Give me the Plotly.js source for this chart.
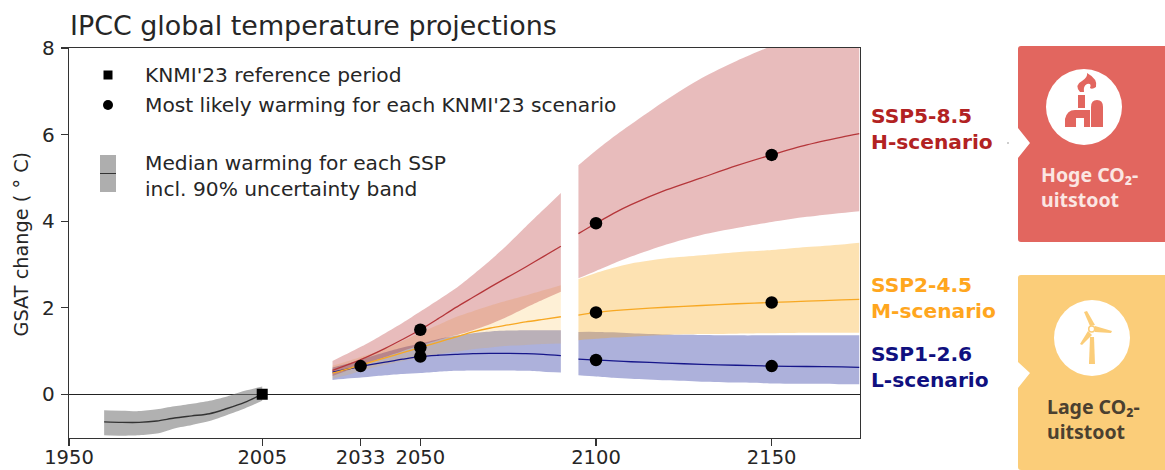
<!DOCTYPE html>
<html><head><meta charset="utf-8">
<script src="https://cdn.plot.ly/plotly-3.0.1.min.js"></script>
<style>html,body{margin:0;padding:0;background:#fff}</style></head>
<body><div id="chart" style="width:1165px;height:470px"></div>
<script>
const histYears=[1960,1965,1970,1975,1980,1985,1990,1995,2000,2005];
const histUpper=[-0.37,-0.38,-0.39,-0.35,-0.28,-0.22,-0.15,-0.05,0.08,0.18];
const histMedian=[-0.64,-0.65,-0.65,-0.62,-0.55,-0.50,-0.45,-0.33,-0.19,0];
const histLower=[-0.95,-0.96,-0.95,-0.91,-0.79,-0.71,-0.62,-0.48,-0.33,-0.15];

const earlyYears=[2025,2030,2035,2040,2045,2050,2055,2060,2065,2070,2075,2080,2085,2090];
const lateYears=[2095,2100,2105,2110,2120,2130,2140,2150,2160,2170,2175];

const ssp585UpperEarly=[.77,.97,1.18,1.41,1.65,1.91,2.17,2.44,2.76,3.1,3.47,3.87,4.26,4.65];
const ssp585MedianEarly=[.55,.70,.87,1.06,1.27,1.49,1.74,2.0,2.24,2.48,2.71,2.94,3.18,3.42];
const ssp585LowerEarly=[.42,.57,.72,.86,1.0,1.13,1.25,1.36,1.48,1.62,1.8,2.0,2.19,2.37];
const ssp245UpperEarly=[.66,.78,.91,1.05,1.23,1.42,1.6,1.78,1.92,2.05,2.17,2.28,2.40,2.52];
const ssp245MedianEarly=[.49,.6,.72,.84,.96,1.08,1.2,1.32,1.44,1.53,1.6,1.67,1.73,1.79];
const ssp245LowerEarly=[.36,.46,.58,.68,.77,.85,.92,.98,1.04,1.08,1.12,1.14,1.16,1.17];
const ssp126UpperEarly=[.62,.72,.85,.97,1.08,1.17,1.27,1.35,1.41,1.45,1.47,1.48,1.48,1.48];
const ssp126MedianEarly=[.51,.59,.67,.74,.81,.87,.90,.92,.94,.945,.945,.94,.92,.89];
const ssp126LowerEarly=[.33,.37,.40,.44,.47,.49,.52,.54,.55,.55,.55,.54,.52,.50];

const ssp585UpperLate=[5.29,5.63,5.95,6.24,6.80,7.30,7.70,8.05,8.4,8.75,8.9];
const ssp585MedianLate=[3.71,3.95,4.18,4.38,4.72,5.0,5.28,5.53,5.76,5.94,6.02];
const ssp585LowerLate=[2.68,2.85,3.02,3.18,3.46,3.68,3.84,3.98,4.1,4.19,4.23];
const ssp245UpperLate=[2.66,2.80,2.92,3.02,3.14,3.21,3.28,3.33,3.40,3.46,3.5];
const ssp245MedianLate=[1.83,1.89,1.93,1.96,2.01,2.05,2.09,2.12,2.15,2.18,2.19];
const ssp245LowerLate=[1.25,1.28,1.31,1.33,1.37,1.39,1.40,1.41,1.42,1.42,1.42];
const ssp126UpperLate=[1.44,1.44,1.43,1.41,1.38,1.37,1.36,1.36,1.36,1.36,1.36];
const ssp126MedianLate=[.81,.79,.77,.75,.72,.69,.67,.65,.64,.63,.62];
const ssp126LowerLate=[.44,.41,.38,.36,.32,.29,.27,.25,.24,.23,.23];

const dotYears=[2033,2050,2050,2050,2100,2100,2100,2150,2150,2150];
const dotValues=[0.65,1.49,1.08,0.87,3.95,1.89,0.79,5.53,2.12,0.65];
const refYear=[2005], refValue=[0];
const xTicks=[1950,2005,2033,2050,2100,2150];
const yTicks=[0,2,4,6,8];

const W=1165,H=470;
const FONT='"DejaVu Sans", sans-serif';
const CARD='"Noto Sans", "Open Sans", sans-serif';
const X=x=>x/W, Y=y=>1-y/H;
const RED='#b22222',ORANGE='#f7a823',NAVY='#16168a';

function band(x,up,lo,color){
  return [
    {type:'scatter',mode:'lines',x:x,y:lo,line:{width:0,shape:'spline',smoothing:0.8},hoverinfo:'skip',showlegend:false},
    {type:'scatter',mode:'lines',x:x,y:up,fill:'tonexty',fillcolor:color,line:{width:0,shape:'spline',smoothing:0.8},hoverinfo:'skip',showlegend:false}
  ];
}
function med(x,y,color,w){
  return {type:'scatter',mode:'lines',x:x,y:y,line:{color:color,width:w||1.3,shape:'spline',smoothing:0.8},hoverinfo:'skip',showlegend:false};
}
const data=[].concat(
  band(histYears,histUpper,histLower,'rgba(120,120,120,0.58)'),
  band(earlyYears,ssp126UpperEarly,ssp126LowerEarly,'rgba(40,50,160,0.38)'),
  band(lateYears,ssp126UpperLate,ssp126LowerLate,'rgba(40,50,160,0.38)'),
  band(earlyYears,ssp245UpperEarly,ssp245LowerEarly,'rgba(250,170,30,0.18)'),
  band(lateYears,ssp245UpperLate,ssp245LowerLate,'rgba(250,170,30,0.34)'),
  band(earlyYears,ssp585UpperEarly,ssp585LowerEarly,'rgba(178,34,34,0.30)'),
  band(lateYears,ssp585UpperLate,ssp585LowerLate,'rgba(178,34,34,0.30)'),
  [
  med(histYears,histMedian,'#333333',1.4),
  med(earlyYears,ssp126MedianEarly,NAVY),med(lateYears,ssp126MedianLate,NAVY),
  med(earlyYears,ssp245MedianEarly,ORANGE),med(lateYears,ssp245MedianLate,ORANGE),
  med(earlyYears,ssp585MedianEarly,'#b5363a'),med(lateYears,ssp585MedianLate,'#b5363a'),
  {type:'scatter',mode:'markers',x:dotYears,y:dotValues,marker:{color:'#000',size:12.5},hoverinfo:'skip',showlegend:false},
  {type:'scatter',mode:'markers',x:refYear,y:refValue,marker:{color:'#000',size:11,symbol:'square'},hoverinfo:'skip',showlegend:false}
  ]
);

function P(d){return d.replace(/(-?[\d.]+),(-?[\d.]+)/g,(m,a,b)=>X(+a).toFixed(5)+','+Y(+b).toFixed(5));}
function path(d,fill){return {type:'path',xref:'paper',yref:'paper',path:P(d),fillcolor:fill,line:{width:0},layer:'above'};}
function circle(cx,cy,r,fill,stroke){return {type:'circle',xref:'paper',yref:'paper',x0:X(cx-r),x1:X(cx+r),y0:Y(cy+r),y1:Y(cy-r),fillcolor:fill,line:stroke?{color:stroke,width:1.5}:{width:0},layer:'above'};}
function rect(x0,y0,x1,y1,fill){return {type:'rect',xref:'paper',yref:'paper',x0:X(x0),x1:X(x1),y0:Y(y1),y1:Y(y0),fillcolor:fill,line:{width:0},layer:'above'};}
const CR='#e2665f',CY='#fbcd79';
const shapes=[
  rect(103.5,70.5,112.5,79.5,'#000'),
  circle(108,105,5,'#000'),
  rect(100,155,116,192,'#aeaeae'),
  rect(100,173,116,174,'#333'),
  path('M1021,46 L1165,46 L1165,242 L1021,242 Q1018,242 1018,239 L1018,158 L1030,143 L1018,128 L1018,49 Q1018,46 1021,46 Z',CR),
  path('M1021,275 L1165,275 L1165,470 L1021,470 Q1018,470 1018,467 L1018,388 L1030,373 L1018,362 L1018,278 Q1018,275 1021,275 Z',CY),
  circle(1084,107,38,'#fff'),
  circle(1092,338,38,'#fff'),
  path('M1078,95 L1085,95 L1085,108 L1078,108 Z',CR),
  path('M1065,127 L1065,119 Q1067,110 1075,110 L1090,110 L1090,127 L1084,127 L1084,118 L1076,118 L1076,127 Z',CR),
  path('M1091,127 L1091,107 Q1091,100 1097,100 Q1103,100 1103,107 L1103,127 Z',CR),
  path('M1080,92 Q1074,85 1082,81 Q1088,77 1087,73 Q1098,79 1096,87 Q1092,90 1090,88 Q1092,83 1087,84 Q1083,86 1084,92 Z',CR),
  path('M1090,337 L1094,337 L1095,364 L1089,364 Z',CY),
  path('M1090,326 L1084,312 L1087,311 L1095,325 Z',CY),
  path('M1095,326 L1112,331 L1111,333 L1095,332 Z',CY),
  path('M1088,331 L1092,335 L1082,345 L1080,344 Z',CY),
  circle(1091.7,329,3,'#fff',CY),
  circle(1008,143,0.7,'#777')
];
function txt(x,y,text,size,color,family,extra){
  return Object.assign({xref:'paper',yref:'paper',x:X(x-2),y:Y(y),text:text,showarrow:false,xanchor:'left',yanchor:'middle',align:'left',
    font:{family:family||FONT,size:size,color:color||'#262626'}},extra||{});
}
const annotations=[
  txt(70,26,'IPCC global temperature projections',26.9,'#262626'),
  txt(145,75,"KNMI'23 reference period",20.2),
  txt(145,105,"Most likely warming for each KNMI'23 scenario",20.2),
  txt(145,176,'Median warming for each SSP<br>incl. 90% uncertainty band',20.2),
  txt(23,244.5,'GSAT change ( ° C)',19.3,'#262626',FONT,{textangle:-90,xanchor:'center'}),
  txt(871,129,'<b>SSP5-8.5</b><br><b>H-scenario</b>',20.2,RED),
  txt(871,298,'<b>SSP2-4.5</b><br><b>M-scenario</b>',20.2,'#ffa61e'),
  txt(871,366.5,'<b>SSP1-2.6</b><br><b>L-scenario</b>',20.2,'#10107f'),
  txt(1041,187,'<b>Hoge CO₂-</b><br><b>uitstoot</b>',19.5,'#fbe6e3',CARD),
  txt(1047,419,'<b>Lage CO₂-</b><br><b>uitstoot</b>',19.5,'#4b4030',CARD)
];
const layout={
  width:W,height:H,margin:{l:0,r:0,t:0,b:0},paper_bgcolor:'#fff',plot_bgcolor:'#fff',showlegend:false,
  font:{family:FONT,color:'#262626',size:20},
  xaxis:{domain:[69/W,859.5/W],range:[1950,2175],tickvals:xTicks,ticktext:xTicks.map(String),showgrid:false,zeroline:false,
    showline:true,mirror:true,linecolor:'#333',linewidth:1.2,ticks:'outside',ticklen:7,tickwidth:1.2,tickcolor:'#333',ticklabelstandoff:-5,
    tickfont:{family:FONT,size:19.5,color:'#262626'}},
  yaxis:{domain:[(H-437.5)/H,(H-48)/H],range:[-1,8],tickvals:yTicks,showgrid:false,zeroline:true,zerolinecolor:'#222',zerolinewidth:1.2,
    showline:true,mirror:true,linecolor:'#333',linewidth:1.2,ticks:'outside',ticklen:7,tickwidth:1.2,tickcolor:'#333',ticklabelstandoff:2,
    tickfont:{family:FONT,size:20,color:'#262626'}},
  shapes:shapes,annotations:annotations
};
Plotly.newPlot('chart',data,layout,{staticPlot:true,displayModeBar:false});
</script></body></html>
